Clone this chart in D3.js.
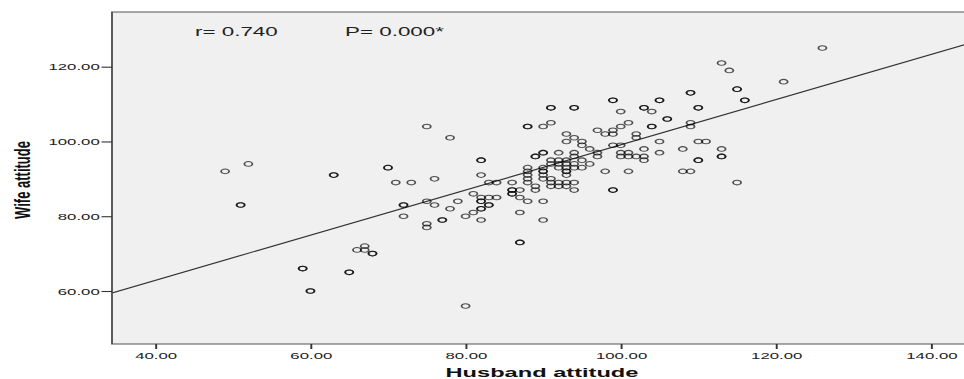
<!DOCTYPE html>
<html>
<head>
<meta charset="utf-8">
<script src="https://cdn.jsdelivr.net/npm/d3@7"></script>
<style>
  body { margin: 0; background: #fff; }
  svg { display: block; font-family: "Liberation Sans", Arial, sans-serif; }
</style>
</head>
<body>
<svg id="chart" width="964" height="379"></svg>
<script>
// husband / wife attitude pairs (repeated pairs = darker rings)
const husband = [
  49, 52, 51, 51, 63, 63, 70, 70, 59, 59, 60, 60, 65, 65, 66, 67, 67, 68, 68,
  71, 73, 72, 72, 72, 75, 76, 75, 75, 77, 77, 78, 79, 80, 81, 81, 82, 82, 82, 82, 82, 82,
  83, 83, 83, 84, 83, 84, 86, 86, 86, 86, 86, 87, 87, 87, 87, 87, 88, 90, 90, 80,
  75, 78, 76, 82, 82, 82, 88, 88, 90, 91, 91, 91, 89, 89, 90, 90,
  88, 88, 88, 88, 88, 89, 89, 90, 90, 90, 90, 90,
  91, 91, 91, 91, 91, 92, 92, 92, 92, 92, 92,
  93, 93, 93, 93, 93, 93, 93, 93, 93, 93,
  94, 94, 94, 94, 94, 94, 94, 94, 94,
  95, 95, 95, 95, 96, 96, 97, 97, 97, 98, 98,
  99, 99, 99, 99, 99, 99, 99, 100, 100, 100, 100, 100,
  101, 101, 101, 101, 102, 102, 102, 103, 103, 103, 103, 103,
  104, 104, 104, 105, 105, 105, 105, 106, 106, 108, 108,
  109, 109, 109, 109, 109, 110, 110, 110, 110, 110, 111,
  113, 114, 113, 113, 113, 115, 115, 116, 116, 115, 121, 126
];
const wife = [
  92, 94, 83, 83, 91, 91, 93, 93, 66, 66, 60, 60, 65, 65, 71, 72, 71, 70, 70,
  89, 89, 83, 83, 80, 84, 83, 78, 77, 79, 79, 82, 84, 80, 86, 81, 85, 84, 84, 82, 82, 79,
  83, 83, 85, 85, 89, 89, 89, 87, 87, 86, 86, 87, 85, 81, 73, 73, 84, 84, 79, 56,
  104, 101, 90, 91, 95, 95, 104, 104, 104, 109, 109, 105, 96, 96, 97, 97,
  93, 92, 91, 90, 89, 88, 87, 93, 92, 92, 91, 90,
  95, 94, 90, 89, 88, 97, 95, 94, 93, 89, 88,
  102, 100, 95, 94, 93, 92, 92, 91, 89, 88,
  109, 109, 101, 97, 96, 94, 93, 89, 87,
  100, 99, 95, 93, 98, 94, 103, 97, 96, 102, 92,
  111, 111, 103, 102, 99, 87, 87, 108, 104, 99, 97, 96,
  105, 97, 96, 92, 102, 101, 96, 109, 109, 98, 96, 95,
  108, 104, 104, 111, 111, 100, 97, 106, 106, 98, 92,
  113, 113, 105, 104, 92, 109, 109, 100, 95, 95, 100,
  121, 119, 98, 96, 96, 114, 114, 111, 111, 89, 116, 125
];
const xTicks = [40, 60, 80, 100, 120, 140];
const yTicks = [60, 80, 100, 120];
const fit = { intercept: 38.7, slope: 0.604 };
const stats = ["r= 0.740", "P= 0.000*"];

// the original export is stretched sideways, so draw narrow and scale x
const SX = 1.75;
const plot = { left: 112 / SX, right: 970 / SX, top: 12, bottom: 344 };

const svg = d3.select("#chart");
const g = svg.append("g").attr("transform", `scale(${SX},1)`);

const x = d3.scaleLinear().domain([40, 140]).range([155.3 / SX, 931 / SX]);
const y = d3.scaleLinear().domain([60, 120]).range([291, 66.7]);

g.append("rect")
  .attr("x", plot.left).attr("y", plot.top)
  .attr("width", plot.right - plot.left).attr("height", plot.bottom - plot.top)
  .attr("fill", "#f0f0f0");

// fit line across the whole plot
const x0 = x.invert(plot.left), x1 = x.invert(plot.right);
g.append("line")
  .attr("x1", x(x0)).attr("y1", y(fit.intercept + fit.slope * x0))
  .attr("x2", x(x1)).attr("y2", y(fit.intercept + fit.slope * x1))
  .attr("stroke", "#333").attr("stroke-width", 1.1);

const pts = husband.map((h, i) => ({ h: h, w: wife[i] }));
g.append("g")
  .selectAll("circle")
  .data(pts)
  .enter().append("circle")
  .attr("cx", d => x(d.h))
  .attr("cy", d => y(d.w))
  .attr("r", 2.3)
  .attr("fill", "none")
  .attr("stroke", "#000")
  .attr("stroke-opacity", 0.68)
  .attr("stroke-width", 1.05);

// frame
g.append("path")
  .attr("d", `M${plot.right},${plot.top}H${plot.left}V${plot.bottom}H${plot.right}`)
  .attr("fill", "none").attr("stroke", "#555").attr("stroke-width", 1.1);

const yAxis = g.append("g")
  .attr("transform", `translate(${plot.left},0)`)
  .call(d3.axisLeft(y).tickValues(yTicks).tickFormat(d3.format(".2f")).tickSize(6).tickPadding(1));
const xAxis = g.append("g")
  .attr("transform", `translate(0,${plot.bottom})`)
  .call(d3.axisBottom(x).tickValues(xTicks).tickFormat(d3.format(".2f")).tickSize(5).tickPadding(3));

[xAxis, yAxis].forEach(a => {
  a.select(".domain").remove();
  a.selectAll(".tick line").attr("stroke", "#333").attr("stroke-width", 1.1);
  a.selectAll(".tick text")
    .attr("fill", "#222")
    .style("font-size", "9.6px")
    .style("font-family", "'Liberation Sans', Arial, sans-serif");
});

g.append("text")
  .attr("x", 542 / SX).attr("y", 377)
  .attr("text-anchor", "middle")
  .style("font-size", "13.5px").style("font-weight", "bold")
  .attr("fill", "#111")
  .text("Husband attitude");

g.append("text")
  .attr("transform", `translate(${17},180) rotate(-90)`)
  .attr("text-anchor", "middle")
  .style("font-size", "13px").style("font-weight", "bold")
  .attr("fill", "#111")
  .text("Wife attitude");

g.append("g")
  .selectAll("text")
  .data(stats)
  .enter().append("text")
  .attr("x", (d, i) => [195, 345][i] / SX)
  .attr("y", 36)
  .style("font-size", "12.8px")
  .attr("fill", "#222")
  .text(d => d);
</script>
</body>
</html>
